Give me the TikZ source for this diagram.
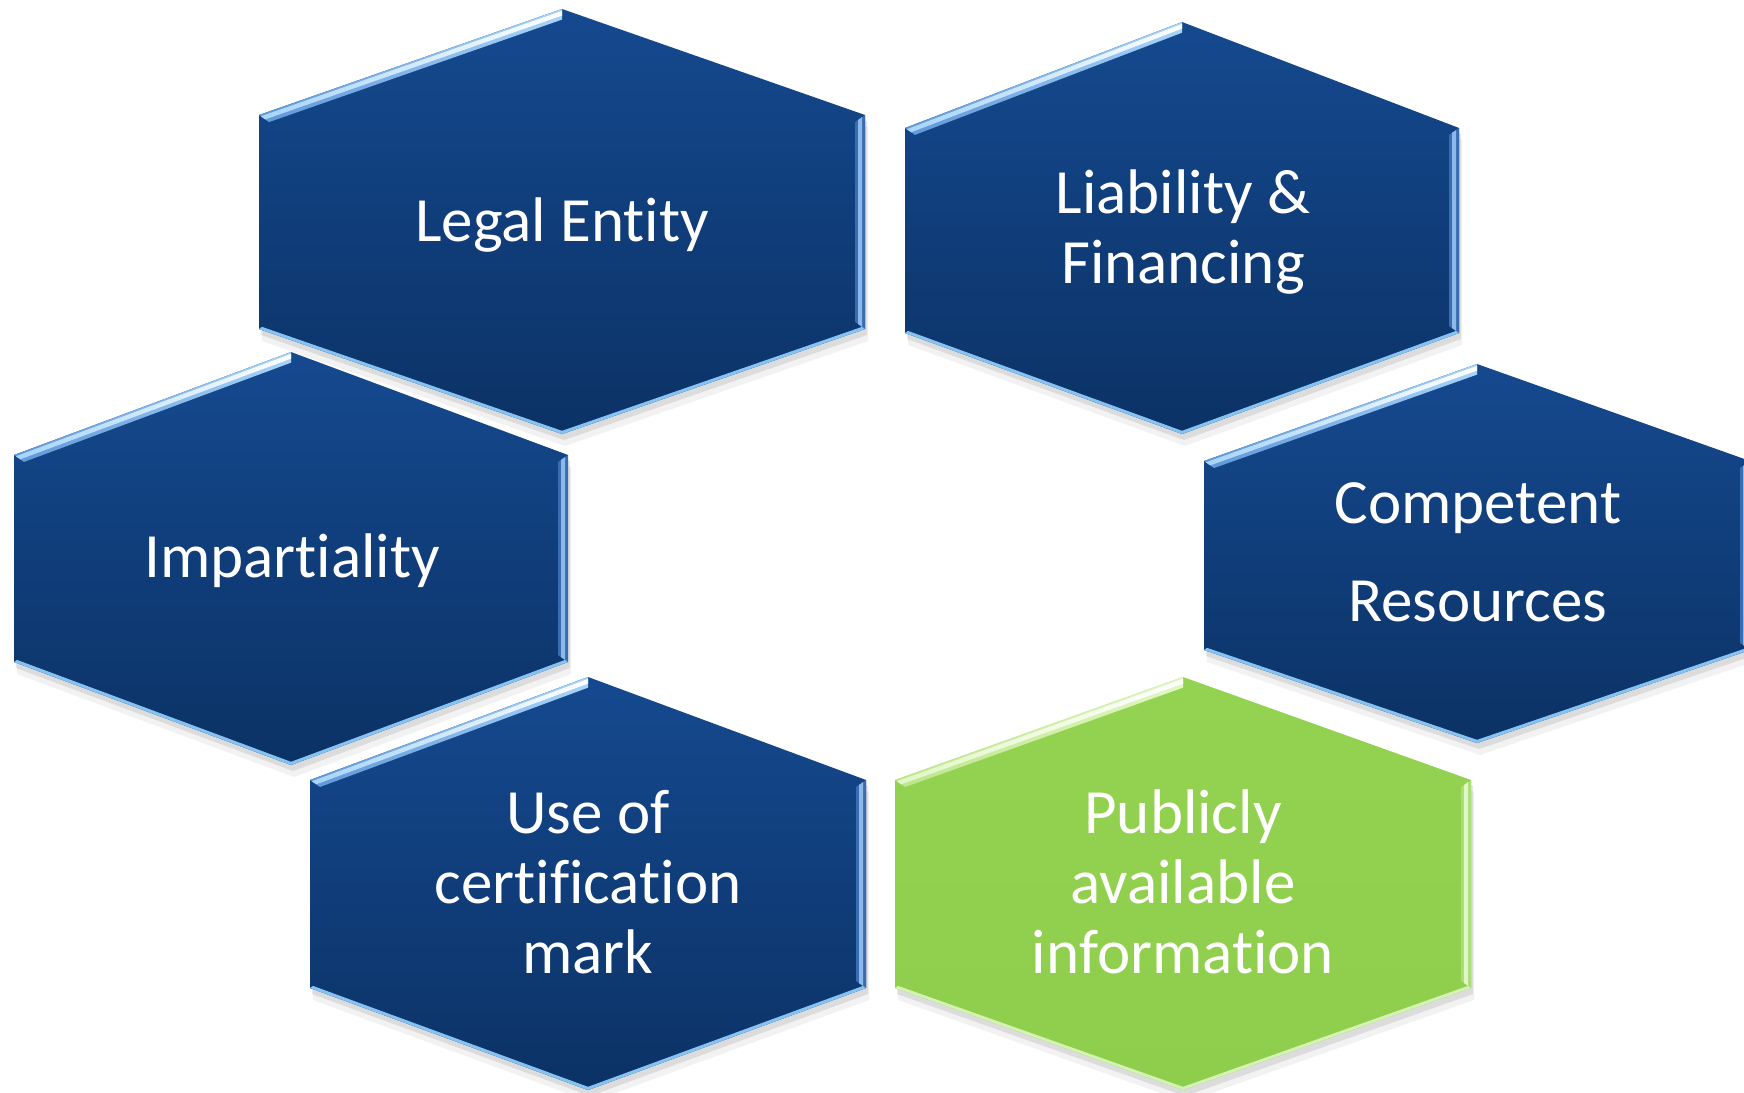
\documentclass[tikz,border=0pt]{standalone}
\usepackage{fontspec}
\setmainfont{Carlito}[Ligatures=NoCommon]
\usetikzlibrary{calc}

\definecolor{btop}{HTML}{15498F}
\definecolor{bbot}{HTML}{0B3265}
\definecolor{bhlA}{HTML}{5F97D8}
\definecolor{bhlB}{HTML}{A6D4FA}
\definecolor{bhlW}{HTML}{FFFFFF}
\definecolor{bside}{HTML}{3A6DB0}
\definecolor{bsideW}{HTML}{8DB8EA}
\definecolor{bline}{HTML}{86C3F2}
\definecolor{gtop}{HTML}{94D352}
\definecolor{gbot}{HTML}{8FCD4D}
\definecolor{ghlA}{HTML}{BCE68A}
\definecolor{ghlB}{HTML}{E2F6C6}
\definecolor{ghlW}{HTML}{FFFFFF}
\definecolor{gside}{HTML}{ADDD78}
\definecolor{gsideW}{HTML}{E0F6C4}
\definecolor{gline}{HTML}{D4F2B4}

\tikzset{
  hexlabel/.style={text=white, inner sep=0pt, anchor=base,
    font=\fontsize{31.5}{35}\selectfont},
}

% #1 name, #2 cx, #3 top y, #4 upper y, #5 lower y, #6 bottom y, #7 half width, #8 scheme (b/g)
\newcommand{\hexcell}[8]{%
  \pgfmathsetmacro\hxA{#4-#3}%
  \pgfmathsetmacro\hxL{100*veclen(#7/100,\hxA/100)}%
  \pgfmathsetmacro\hxk{10*\hxL/#7}%
  \pgfmathsetmacro\hxm{10*(\hxL-\hxA)/#7}%
  \pgfmathsetmacro\hxAb{#6-#5}%
  \pgfmathsetmacro\hxLb{100*veclen(#7/100,\hxAb/100)}%
  \pgfmathsetmacro\hxkb{10*\hxLb/#7}%
  \pgfmathsetmacro\hxmb{10*(\hxLb-\hxAb)/#7}%
  \coordinate (#1T) at (#2,#3);
  \coordinate (#1UR) at ({#2+#7},#4);
  \coordinate (#1LR) at ({#2+#7},#5);
  \coordinate (#1B) at (#2,#6);
  \coordinate (#1LL) at ({#2-#7},#5);
  \coordinate (#1UL) at ({#2-#7},#4);
  \coordinate (#1Ti) at (#2,{#3+\hxk});
  \coordinate (#1URi) at ({#2+#7-10},{#4+\hxm});
  \coordinate (#1LRi) at ({#2+#7-10},{#5-\hxmb});
  \coordinate (#1Bi) at (#2,{#6-\hxkb});
  \coordinate (#1LLi) at ({#2-#7+10},{#5-\hxmb});
  \coordinate (#1ULi) at ({#2-#7+10},{#4+\hxm});
  % soft shadow
  \fill[black, opacity=0.05] ([shift={(3,12)}]#1T) -- ([shift={(3,12)}]#1UR) -- ([shift={(3,12)}]#1LR) -- ([shift={(3,12)}]#1B) -- ([shift={(3,12)}]#1LL) -- ([shift={(3,12)}]#1UL) -- cycle;
  \fill[black, opacity=0.09] ([shift={(2,6)}]#1T) -- ([shift={(2,6)}]#1UR) -- ([shift={(2,6)}]#1LR) -- ([shift={(2,6)}]#1B) -- ([shift={(2,6)}]#1LL) -- ([shift={(2,6)}]#1UL) -- cycle;
  % body
  \shade[top color=#8top, bottom color=#8bot] (#1T) -- (#1UR) -- (#1LR) -- (#1B) -- (#1LL) -- (#1UL) -- cycle;
  % top-left bevel
  \shade[left color=#8hlA, right color=#8hlB] (#1UL) -- (#1T) -- (#1Ti) -- (#1ULi) -- cycle;
  \shade[left color=#8hlB, right color=#8hlW] ($(#1UL)!0.18!(#1ULi)$) -- ($(#1T)!0.18!(#1Ti)$) -- ($(#1T)!0.62!(#1Ti)$) -- ($(#1UL)!0.62!(#1ULi)$) -- cycle;
  % right bevel
  \fill[#8side] (#1UR) -- (#1LR) -- (#1LRi) -- (#1URi) -- cycle;
  \fill[#8sideW] ($(#1UR)!0.3!(#1URi)$) -- ($(#1LR)!0.3!(#1LRi)$) -- ($(#1LR)!0.7!(#1LRi)$) -- ($(#1UR)!0.7!(#1URi)$) -- cycle;
  % bottom light edge
  \fill[#8line] (#1LL) -- (#1B) -- (#1LR) -- ($(#1LR)!0.3!(#1LRi)$) -- ($(#1B)!0.3!(#1Bi)$) -- ($(#1LL)!0.3!(#1LLi)$) -- cycle;
}

\begin{document}
\begin{tikzpicture}[x=0.5pt, y=-0.5pt]
  \clip (0,0) rectangle (1744,1092);
  \fill[white] (0,0) rectangle (1744,1092);

  \hexcell{legalhex}{562}{9}{115}{329}{434}{303}{b}
  \hexcell{liabhex}{1182}{22}{128}{333}{434}{277}{b}
  \hexcell{imparthex}{291}{352}{455}{662}{765}{277}{b}
  \hexcell{comphex}{1477}{364}{461}{650}{743}{273}{b}
  \hexcell{usehex}{588}{677}{780}{988}{1090}{278}{b}
  \hexcell{pubhex}{1183}{677}{780}{988}{1090}{288}{g}

  \node[hexlabel] (legal) at (562,241) {Legal Entity};
  \node[hexlabel] (liability) at (1183,213)
    {\begin{tabular}[t]{@{}c@{}}Liability \&\\Financing\end{tabular}};
  \node[hexlabel] (impartiality) at (292,577) {Impartiality};
  \node[hexlabel, font=\fontsize{31.5}{49}\selectfont] (competent) at (1478,523)
    {\begin{tabular}[t]{@{}c@{}}Competent\\Resources\end{tabular}};
  \node[hexlabel] (usemark) at (588,833)
    {\begin{tabular}[t]{@{}c@{}}Use of\\certification\\mark\end{tabular}};
  \node[hexlabel] (publicinfo) at (1183,833)
    {\begin{tabular}[t]{@{}c@{}}Publicly\\available\\information\end{tabular}};
\end{tikzpicture}
\end{document}
